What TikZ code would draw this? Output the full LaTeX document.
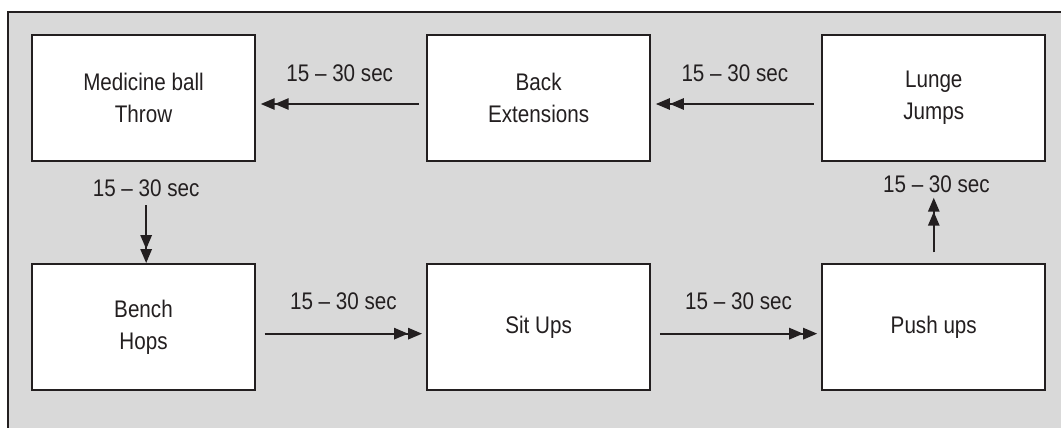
\documentclass[tikz,border=0pt]{standalone}
\usepackage{fontspec}
\setmainfont{Liberation Sans}[FakeStretch=0.86]
\usepackage{tikz}
\usetikzlibrary{arrows.meta,positioning}
\definecolor{Ink}{HTML}{231F20}
\definecolor{Panel}{HTML}{D9D9D9}

\begin{document}
\begin{tikzpicture}[x=0.75pt,y=-0.75pt,
box/.style={draw=Ink,line width=1.6pt,fill=white,minimum width=167.25pt,minimum height=94.5pt,align=center,text=Ink,font=\fontsize{18}{24}\selectfont},
lbl/.style={text=Ink,font=\fontsize{18}{24}\selectfont},
arr/.style={-{Triangle[length=10.5pt,width=8.5pt,sep=0pt]Triangle[length=10.5pt,width=8.5pt]},line width=1.4pt,Ink}]
\useasboundingbox (0,0) rectangle (1061,428);
\fill[Panel] (8,12) rectangle (1070,440);
\draw[Ink,line width=0.9pt] (8,440) -- (8,12) -- (1070,12);
\node[box] (med) at (143.5,98) {Medicine ball\\Throw};
\node[box,right=127.5pt of med] (back) {Back\\Extensions};
\node[box,right=127.5pt of back] (lunge) {Lunge\\Jumps};
\node[box,below=75.75pt of med] (bench) {Bench\\Hops};
\node[box,right=127.5pt of bench] (sit) {Sit Ups};
\node[box,right=127.5pt of sit] (push) {Push ups};
% top row, right to left
\foreach \u/\v in {lunge/back,back/med}{\draw[arr] ([xshift=-5.5pt,yshift=-4.5pt]\u.west) -- node[lbl,above=13pt]{15 -- 30 sec} ([xshift=3.5pt,yshift=-4.5pt]\v.east);}
% bottom row, left to right
\foreach \u/\v in {bench/sit,sit/push}{\draw[arr] ([xshift=6.5pt,yshift=-4.9pt]\u.east) -- node[lbl,above=14pt]{15 -- 30 sec} ([xshift=-3pt,yshift=-4.9pt]\v.west);}
% the two vertical links
\node[lbl,below=9.4pt of med,xshift=2pt] (down) {15 -- 30 sec};
\draw[arr] ([yshift=-3pt]down.south) -- (down.south |- bench.north);
\node[lbl,above=49pt of push,xshift=2pt] (up) {15 -- 30 sec};
\draw[arr] ([yshift=8pt]push.north) -- (push.north |- up.south);
\end{tikzpicture}
\end{document}
